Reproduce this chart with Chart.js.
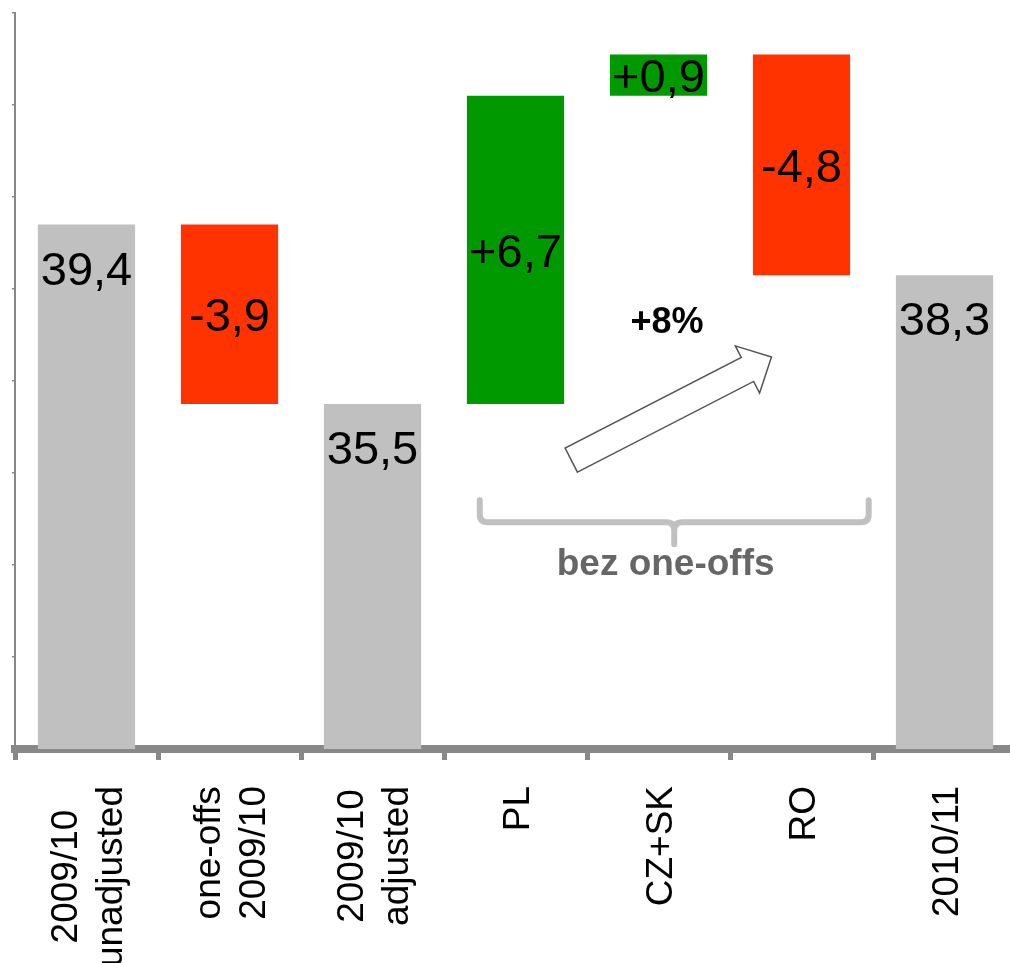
<!DOCTYPE html>
<html>
<head>
<meta charset="utf-8">
<script src="https://cdn.jsdelivr.net/npm/chart.js@4/dist/chart.umd.min.js"></script>
<style>
  html, body { margin: 0; padding: 0; background: #fff; overflow: hidden; }
  #wrap { width: 1010px; height: 963px; overflow: hidden; }
  canvas { display: block; }
</style>
</head>
<body>
<div id="wrap"><canvas id="bridgeChart" width="1016" height="963"></canvas></div>
<script>
// bridge: 2009/10 -> 2010/11
const categories = [
  ['2009/10', 'unadjusted'],
  ['one-offs', '2009/10'],
  ['2009/10', 'adjusted'],
  ['PL'],
  ['CZ+SK'],
  ['RO'],
  ['2010/11'],
];
const stepValues = [39.4, -3.9, 35.5, 6.7, 0.9, -4.8, 38.3];
const stepKinds = ['total', 'delta', 'total', 'delta', 'delta', 'delta', 'total'];
const yTicks = [28, 30, 32, 34, 36, 38, 40, 42, 44];

const FONT = '"Liberation Sans", Arial, sans-serif';
const GREY = '#C0C0C0';
const RED = '#FF3300';
const GREEN = '#009900';
const AXIS = '#888888';

// floating bars: totals stand on the floor, deltas hang off the running level
let level = 0;
const ranges = stepValues.map((v, i) => {
  if (stepKinds[i] === 'total') {
    level = v;
    return [0, v];
  }
  const start = level;
  level = Math.round((level + v) * 10) / 10;
  return [start, level];
});
const colors = stepValues.map((v, i) =>
  stepKinds[i] === 'total' ? GREY : (v < 0 ? RED : GREEN));

const fmt = (v, kind) => {
  const s = Math.abs(v).toFixed(1).replace('.', ',');
  if (kind === 'total') return s;
  return (v < 0 ? '-' : '+') + s;
};

const valueLabels = {
  id: 'valueLabels',
  afterDatasetsDraw(chart) {
    const ctx = chart.ctx;
    const meta = chart.getDatasetMeta(0);
    ctx.save();
    ctx.font = '47px ' + FONT;
    ctx.fillStyle = '#000';
    ctx.textAlign = 'center';
    ctx.textBaseline = 'alphabetic';
    meta.data.forEach((bar, i) => {
      const kind = stepKinds[i];
      const top = Math.min(bar.y, bar.base);
      const bottom = Math.max(bar.y, bar.base);
      const y = kind === 'total' ? top + 60 : (top + bottom) / 2 + 17;
      ctx.fillText(fmt(stepValues[i], kind), bar.x, y);
    });
    ctx.restore();
  }
};

// rotated category names, lines centred on each other
const categoryLabels = {
  id: 'categoryLabels',
  afterDraw(chart) {
    const ctx = chart.ctx;
    const x = chart.scales.x;
    const lh = 45;
    const top = x.top + 37;
    ctx.save();
    ctx.font = '37px ' + FONT;
    ctx.fillStyle = '#000';
    ctx.textAlign = 'center';
    ctx.textBaseline = 'middle';
    categories.forEach((lines, i) => {
      const cx = x.getPixelForValue(i) + 3;
      const maxLen = Math.max(...lines.map(l => ctx.measureText(l).width));
      const cy = top + maxLen / 2;
      lines.forEach((line, j) => {
        ctx.save();
        ctx.translate(cx + (j - (lines.length - 1) / 2) * lh, cy);
        ctx.rotate(-Math.PI / 2);
        ctx.fillText(line, 0, 0);
        ctx.restore();
      });
    });
    ctx.restore();
  }
};

const notes = {
  id: 'notes',
  afterDraw(chart) {
    const ctx = chart.ctx;
    const sx = chart.scales.x, sy = chart.scales.y;
    const px = v => sx.getPixelForValue(v);
    const py = v => sy.getPixelForValue(v);
    ctx.save();

    // growth arrow, hollow block shape
    const tail = [px(3.39), py(34.28)];
    const tip = [px(4.79), py(36.52)];
    const dx = tip[0] - tail[0], dy = tip[1] - tail[1];
    const len = Math.hypot(dx, dy);
    const ux = dx / len, uy = dy / len;
    const nx = -uy, ny = ux;
    const hw = 13.5, hh = 26.5, hl = 27;
    const bx = tip[0] - ux * hl, by = tip[1] - uy * hl;
    ctx.beginPath();
    ctx.moveTo(tail[0] + nx * hw, tail[1] + ny * hw);
    ctx.lineTo(bx + nx * hw, by + ny * hw);
    ctx.lineTo(bx + nx * hh, by + ny * hh);
    ctx.lineTo(tip[0], tip[1]);
    ctx.lineTo(bx - nx * hh, by - ny * hh);
    ctx.lineTo(bx - nx * hw, by - ny * hw);
    ctx.lineTo(tail[0] - nx * hw, tail[1] - ny * hw);
    ctx.closePath();
    ctx.fillStyle = '#fff';
    ctx.fill();
    ctx.strokeStyle = '#555';
    ctx.lineWidth = 1.5;
    ctx.stroke();

    ctx.font = 'bold 36px ' + FONT;
    ctx.fillStyle = '#000';
    ctx.textAlign = 'center';
    ctx.textBaseline = 'alphabetic';
    ctx.fillText('+8%', px(4.06), py(37.04));

    // brace under the three country steps
    const L = px(2.75), R = px(5.47), C = px(4.11);
    const yTop = py(33.41), yMid = py(32.93), yBot = py(32.45);
    const r = 8;
    ctx.beginPath();
    ctx.moveTo(L, yTop);
    ctx.lineTo(L, yMid - r);
    ctx.quadraticCurveTo(L, yMid, L + r, yMid);
    ctx.lineTo(C - r, yMid);
    ctx.quadraticCurveTo(C, yMid, C, yMid + r);
    ctx.lineTo(C, yBot);
    ctx.moveTo(C, yMid + r);
    ctx.quadraticCurveTo(C, yMid, C + r, yMid);
    ctx.lineTo(R - r, yMid);
    ctx.quadraticCurveTo(R, yMid, R, yMid - r);
    ctx.lineTo(R, yTop);
    ctx.strokeStyle = GREY;
    ctx.lineWidth = 6;
    ctx.lineCap = 'round';
    ctx.lineJoin = 'round';
    ctx.stroke();

    ctx.font = 'bold 37px ' + FONT;
    ctx.fillStyle = '#666';
    ctx.fillText('bez one-offs', px(4.05), py(31.78));
    ctx.restore();
  }
};

new Chart(document.getElementById('bridgeChart'), {
  type: 'bar',
  data: {
    labels: categories,
    datasets: [{
      data: ranges,
      backgroundColor: colors,
      borderWidth: 0,
      barPercentage: 0.68,
      categoryPercentage: 1,
    }],
  },
  options: {
    responsive: false,
    animation: false,
    layout: { padding: { top: 13, right: 0, left: 0, bottom: 0 } },
    plugins: {
      legend: { display: false },
      tooltip: { enabled: false },
    },
    scales: {
      x: {
        z: 1,
        ticks: { display: false },
        grid: {
          offset: true,
          drawOnChartArea: false,
          tickLength: 11,
          lineWidth: 5,
          color: AXIS,
        },
        border: { color: AXIS, width: 8 },
        afterFit: s => { s.height = 214; },
      },
      y: {
        min: yTicks[0],
        max: yTicks[yTicks.length - 1],
        afterBuildTicks: s => { s.ticks = yTicks.map(v => ({ value: v })); },
        ticks: { display: false },
        grid: {
          drawOnChartArea: false,
          tickLength: 3,
          lineWidth: 1.5,
          color: AXIS,
        },
        border: { color: AXIS, width: 2 },
        afterFit: s => { s.width = 15; },
      },
    },
  },
  plugins: [valueLabels, categoryLabels, notes],
});
</script>
</body>
</html>
